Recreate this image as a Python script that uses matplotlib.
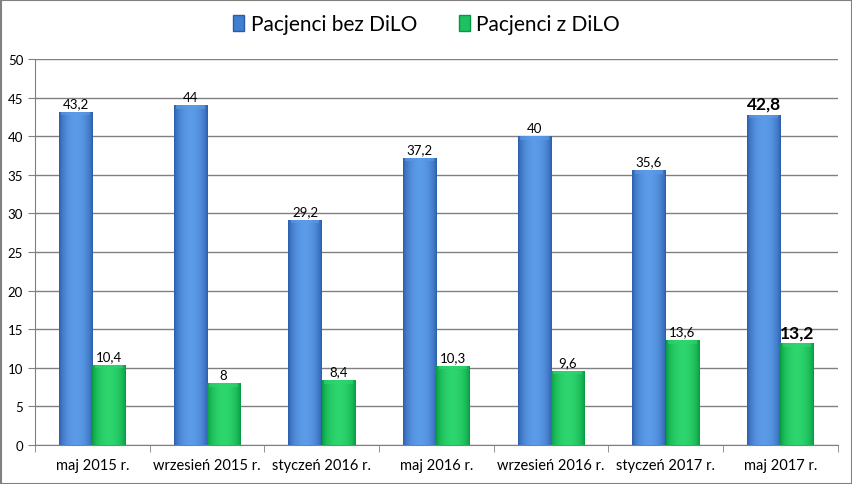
import matplotlib
matplotlib.use("Agg")
from matplotlib import pyplot as plt
from matplotlib.patches import Rectangle
import numpy as np

plt.rcParams['font.family'] = ['Lato', 'DejaVu Sans']

kategorie = ["maj 2015 r.", "wrzesień 2015 r.", "styczeń 2016 r.", "maj 2016 r.",
             "wrzesień 2016 r.", "styczeń 2017 r.", "maj 2017 r."]
bez_dilo = [43.2, 44, 29.2, 37.2, 40, 35.6, 42.8]
z_dilo = [10.4, 8, 8.4, 10.3, 9.6, 13.6, 13.2]
etykiety_bez = ["43,2", "44", "29,2", "37,2", "40", "35,6", "42,8"]
etykiety_z = ["10,4", "8", "8,4", "10,3", "9,6", "13,6", "13,2"]

fig = plt.figure(figsize=(8.53, 4.85), dpi=100)
ax = fig.add_axes([0.041, 0.0804, 0.941, 0.7956])

x = np.arange(len(kategorie))
w = 0.29


def gradient_bars(xs, vals, kolor_c, kolor_j):
    # gradient poziomy: ciemne brzegi, jasny srodek
    c1 = np.array(matplotlib.colors.to_rgb(kolor_c))
    c2 = np.array(matplotlib.colors.to_rgb(kolor_j))
    t = np.linspace(0, 1, 64)
    prof = np.sin(np.pi * t) ** 0.6
    img = (c1[None, :] * (1 - prof[:, None]) + c2[None, :] * prof[:, None])[None, :, :]
    bars = ax.bar(xs, vals, width=w, color=kolor_c, zorder=3)
    for b in bars:
        x0, h = b.get_x(), b.get_height()
        im = ax.imshow(img, extent=[x0, x0 + w, 0, h], aspect='auto', zorder=3.5,
                       interpolation='bilinear')
        im.set_clip_path(b)
        # jasniejsza krawedz u gory
        ax.add_patch(Rectangle((x0 + 0.02, h - 0.45), w - 0.04, 0.45,
                               color=c2, alpha=0.6, zorder=4, lw=0))
    return bars


b1 = gradient_bars(x - w / 2, bez_dilo, "#2a5aa8", "#5b9be8")
b2 = gradient_bars(x + w / 2, z_dilo, "#05983f", "#2ed66e")

for i in range(len(x)):
    gruby = i == len(x) - 1
    fs = 12.5 if gruby else 9.5
    fw = 'bold' if gruby else 'normal'
    ax.text(x[i] - w / 2, bez_dilo[i] + 0.35, etykiety_bez[i], ha='center', va='bottom',
            fontsize=fs, fontweight=fw, zorder=5)
    ax.text(x[i] + w / 2, z_dilo[i] + 0.35, etykiety_z[i], ha='center', va='bottom',
            fontsize=fs, fontweight=fw, zorder=5)

ax.set_xlim(-0.5, len(x) - 0.5)
ax.set_ylim(0, 50)
ax.set_yticks(np.arange(0, 51, 5))
ax.set_xticks(x)
ax.set_xticklabels(kategorie, fontsize=10.5)
ax.set_xticks(np.arange(-0.5, len(x), 1), minor=True)
ax.tick_params(axis='x', which='major', length=0, pad=9)
ax.tick_params(axis='x', which='minor', length=5, color='#808080')
ax.tick_params(axis='y', labelsize=9.5, length=5, color='#808080')
ax.yaxis.grid(True, color='#808080', linewidth=1)
ax.set_axisbelow(True)
for s in ['top', 'right']:
    ax.spines[s].set_visible(False)
for s in ['left', 'bottom']:
    ax.spines[s].set_color('#808080')

h1 = Rectangle((0, 0), 1, 1, facecolor='#3f7fd0', edgecolor='#2a5aa8')
h2 = Rectangle((0, 0), 1, 1, facecolor='#1ec060', edgecolor='#05983f')
fig.legend([h1, h2], ["Pacjenci bez DiLO", "Pacjenci z DiLO"], loc='center',
           bbox_to_anchor=(0.5, 0.948), ncol=2, frameon=False, fontsize=15,
           handlelength=0.55, handleheight=0.85, handletextpad=0.3, columnspacing=2.0)

fig.patches.append(Rectangle((0.001, 0.001), 0.998, 0.997, transform=fig.transFigure,
                             fill=False, edgecolor='#808080', linewidth=1.5))

fig.savefig("out.png", dpi=100)
